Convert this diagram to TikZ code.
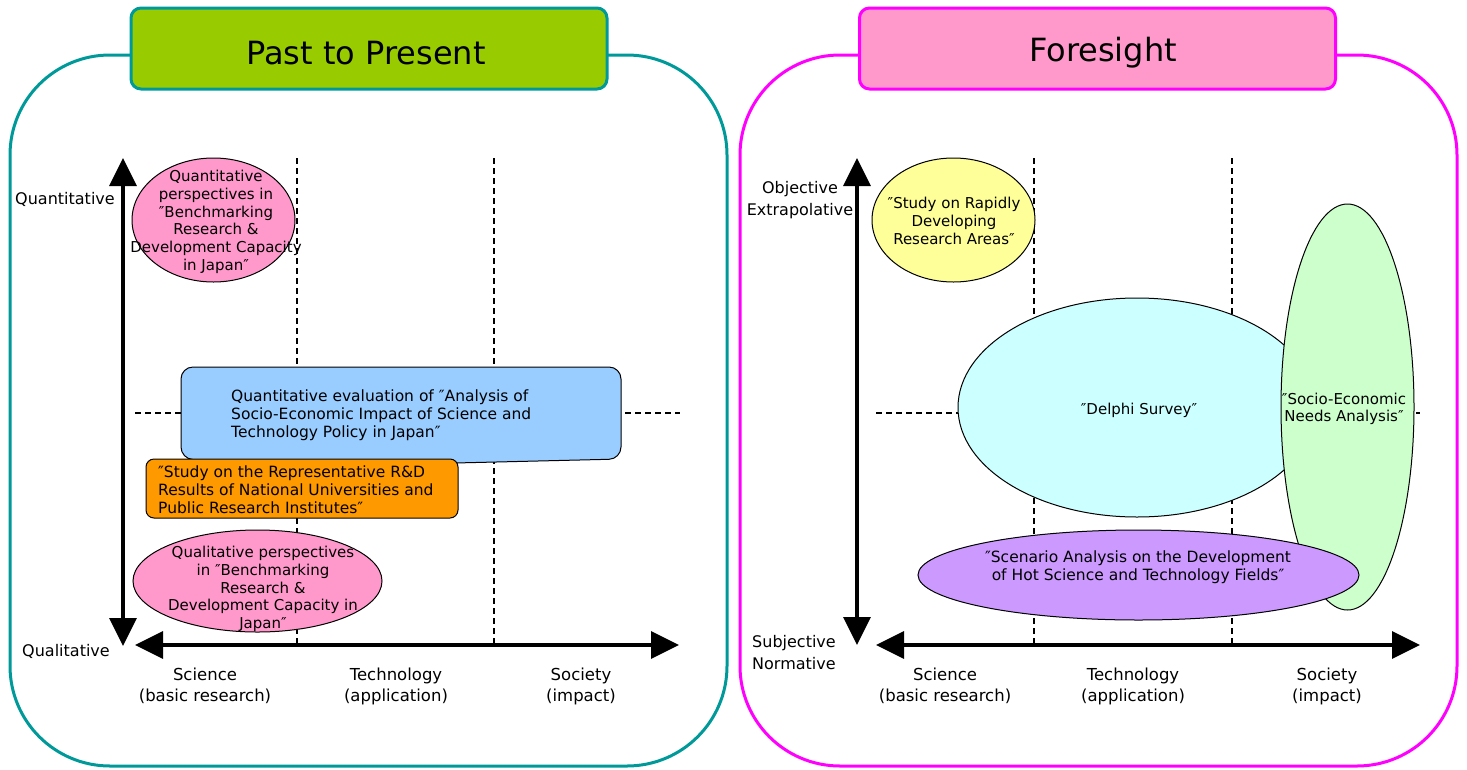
\documentclass[tikz,border=0pt]{standalone}
\usepackage{fontspec}
\setmainfont{DejaVu Sans}
\usetikzlibrary{arrows.meta,shapes.geometric}

\definecolor{frameteal}{HTML}{009999}
\definecolor{framemag}{HTML}{FF00FF}
\definecolor{titlegreen}{HTML}{99CC00}
\definecolor{pinkfill}{HTML}{FF99CC}
\definecolor{bluefill}{HTML}{99CCFF}
\definecolor{orangefill}{HTML}{FF9900}
\definecolor{yellowfill}{HTML}{FFFF99}
\definecolor{cyanfill}{HTML}{CCFFFF}
\definecolor{purplefill}{HTML}{CC99FF}
\definecolor{mintfill}{HTML}{CCFFCC}

\begin{document}
\begin{tikzpicture}[x=1pt,y=-1pt,
  panel/.style={line width=3pt, rounded corners=100pt, fill=white},
  titlebox/.style={draw, line width=3pt, rounded corners=10pt,
    minimum width=476pt, minimum height=81pt, inner sep=0pt},
  titletext/.style={font=\fontsize{32}{38}\selectfont, inner sep=0pt},
  guide/.style={line width=1.3pt, dash pattern=on 6pt off 4pt},
  axis/.style={line width=3.5pt,
    {Triangle[length=28pt,width=27pt]}-{Triangle[length=28pt,width=27pt]}},
  blob/.style={ellipse, draw, line width=1pt, inner sep=0pt},
  body/.style={font=\fontsize{15}{17.7}\selectfont, align=center, inner sep=0pt},
  widebody/.style={font=\fontsize{15.5}{18}\selectfont, align=center, inner sep=0pt},
  bodyleft/.style={font=\fontsize{15.5}{18}\selectfont, align=left, inner sep=0pt, anchor=west},
  axlabel/.style={font=\fontsize{16}{22}\selectfont, align=center, inner sep=0pt},
  catlabel/.style={font=\fontsize{16.5}{21}\selectfont, align=center, inner sep=0pt}
]
\useasboundingbox (0,0) rectangle (1467,769);
\fill[white] (0,0) rectangle (1467,769);

% ---------------- Past to Present panel ----------------
\draw[panel, draw=frameteal] (10,55) rectangle (727,766);
\node[titlebox, draw=frameteal, fill=titlegreen] (pastbox) at (369,48.5) {};
\node[titletext] (pasttitle) at (366,53) {Past to Present};

% grid guides
\coordinate (lg1t) at (297,158); \coordinate (lg1b) at (297,645);
\coordinate (lg2t) at (494,158); \coordinate (lg2b) at (494,645);
\coordinate (lgl) at (135,413);  \coordinate (lgr) at (680,413);
\draw[guide] (lg1t) -- (lg1b);
\draw[guide] (lg2t) -- (lg2b);
\draw[guide] (lgl) -- (lgr);

% axes
\coordinate (lvtop) at (123,158); \coordinate (lvbot) at (123,646);
\coordinate (lhl) at (135,645);   \coordinate (lhr) at (679,645);
\draw[axis] (lvbot) -- (lvtop);
\draw[axis] (lhl) -- (lhr);

% studies
\node[blob, fill=pinkfill, minimum width=163pt, minimum height=124pt] (benchq) at (213.5,220) {};
\path[draw, fill=bluefill, line width=1pt, rounded corners=12pt]
  (400,367) -- (621,367) -- (621,459) -- (330,466) -- (181,459) -- (181,367) -- cycle;
\node[draw, fill=orangefill, line width=1pt, rounded corners=8pt,
  minimum width=312pt, minimum height=59pt, inner sep=0pt] (studyrd) at (302,488.5) {};
\node[blob, fill=pinkfill, minimum width=249pt, minimum height=102pt] (benchl) at (257.5,581) {};

\node[body] (benchqtxt) at (216,222) {Quantitative\\perspectives in\\″Benchmarking\\Research \&\\Development Capacity\\in Japan″};
\node[bodyleft] (impacttxt) at (231,415) {Quantitative evaluation of ″Analysis of\\Socio-Economic Impact of Science and\\Technology Policy in Japan″};
\node[bodyleft] (studyrdtxt) at (158,490) {″Study on the Representative R\&D\\Results of National Universities and\\Public Research Institutes″};
\node[body] (benchltxt) at (263,589) {Qualitative perspectives\\in ″Benchmarking\\Research \&\\Development Capacity in\\Japan″};

% labels
\node[axlabel] (lquant) at (65,199) {Quantitative};
\node[axlabel] (lqual) at (66,651) {Qualitative};
\node[catlabel] (lsci) at (205,686) {Science\\(basic research)};
\node[catlabel] (ltech) at (396,686) {Technology\\(application)};
\node[catlabel] (lsoc) at (581,686) {Society\\(impact)};

% ---------------- Foresight panel ----------------
\draw[panel, draw=framemag] (740,55) rectangle (1457,766);
\node[titlebox, draw=framemag, fill=pinkfill] (forebox) at (1097.5,48.5) {};
\node[titletext] (foretitle) at (1103,53) {Foresight};

% grid guides
\coordinate (rg1t) at (1034,158); \coordinate (rg1b) at (1034,645);
\coordinate (rg2t) at (1232,158); \coordinate (rg2b) at (1232,645);
\coordinate (rgl) at (876,413);   \coordinate (rgr) at (1420,413);
\draw[guide] (rg1t) -- (rg1b);
\draw[guide] (rg2t) -- (rg2b);
\draw[guide] (rgl) -- (rgr);

% axes
\coordinate (rvtop) at (857,158); \coordinate (rvbot) at (857,645);
\coordinate (rhl) at (876,645);   \coordinate (rhr) at (1420,645);
\draw[axis] (rvbot) -- (rvtop);
\draw[axis] (rhl) -- (rhr);

% studies
\node[blob, fill=yellowfill, minimum width=163pt, minimum height=124pt] (rapid) at (953.5,220) {};
\node[blob, fill=cyanfill, minimum width=358pt, minimum height=219pt] (delphi) at (1137,407.5) {};
\node[blob, fill=mintfill, minimum width=133pt, minimum height=406pt] (needs) at (1347.5,407) {};
\node[blob, fill=purplefill, minimum width=441pt, minimum height=90pt] (scenario) at (1138.5,575) {};

\node[body] (rapidtxt) at (954,221) {″Study on Rapidly\\Developing\\Research Areas″};
\node[body] (delphitxt) at (1139,410) {″Delphi Survey″};
\node[body] (needstxt) at (1344,409) {″Socio-Economic\\Needs Analysis″};
\node[widebody] (scenariotxt) at (1138,567) {″Scenario Analysis on the Development\\of Hot Science and Technology Fields″};

% labels
\node[axlabel] (robj) at (800,200) {Objective\\Extrapolative};
\node[axlabel, align=left, anchor=west] (rsubj) at (752,653) {Subjective\\Normative};
\node[catlabel] (rsci) at (945,686) {Science\\(basic research)};
\node[catlabel] (rtech) at (1133,686) {Technology\\(application)};
\node[catlabel] (rsoc) at (1327,686) {Society\\(impact)};
\end{tikzpicture}
\end{document}
